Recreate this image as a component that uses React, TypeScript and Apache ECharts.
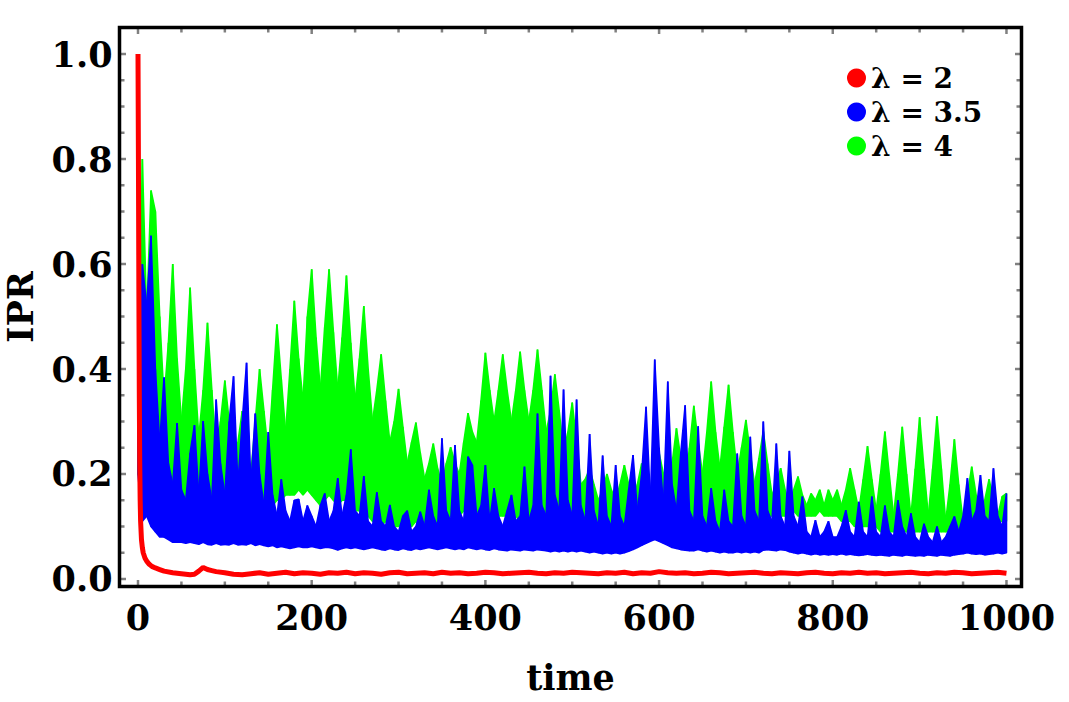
import React, { useEffect, useRef } from "react";
import * as echarts from "echarts";

// ---------- data ----------
const STEP = 5; // time step of the envelope samples
const X_MIN = -21.3;
const X_MAX = 1017.3;
const Y_MIN = -0.0143;
const Y_MAX = 1.0505;

const X_MAJOR = [0, 200, 400, 600, 800, 1000];
const X_MINOR = [50, 100, 150, 250, 300, 350, 450, 500, 550, 650, 700, 750, 850, 900, 950];
const Y_MAJOR = [0, 0.2, 0.4, 0.6, 0.8, 1.0];
const Y_MINOR = [0.05, 0.1, 0.15, 0.25, 0.3, 0.35, 0.45, 0.5, 0.55, 0.65, 0.7, 0.75, 0.85, 0.9, 0.95];

const SERIES_NAMES = ["λ = 2", "λ = 3.5", "λ = 4"];

// λ = 4 (green): upper / lower envelope of the fast oscillation, every 5 time units
const GREEN_UPPER = [
  0.30, 0.80, 0.50, 0.74, 0.70, 0.50, 0.34, 0.45, 0.60, 0.42, 0.30, 0.40, 0.555, 0.40, 0.27, 0.36, 0.488, 0.36, 0.24, 0.30,
  0.378, 0.30, 0.22, 0.26, 0.32, 0.26, 0.20, 0.30, 0.40, 0.32, 0.24, 0.36, 0.485, 0.38, 0.28, 0.40, 0.53, 0.42, 0.34, 0.50,
  0.59, 0.46, 0.36, 0.48, 0.59, 0.47, 0.36, 0.46, 0.578, 0.45, 0.34, 0.42, 0.52, 0.40, 0.30, 0.36, 0.428, 0.34, 0.26, 0.30,
  0.362, 0.29, 0.22, 0.26, 0.298, 0.24, 0.19, 0.22, 0.258, 0.21, 0.18, 0.22, 0.251, 0.22, 0.20, 0.26, 0.316, 0.28, 0.26, 0.34,
  0.431, 0.36, 0.30, 0.36, 0.428, 0.36, 0.30, 0.36, 0.433, 0.36, 0.30, 0.36, 0.437, 0.36, 0.28, 0.32, 0.39, 0.32, 0.24, 0.28,
  0.336, 0.26, 0.18, 0.19, 0.21, 0.18, 0.15, 0.17, 0.20, 0.17, 0.15, 0.18, 0.217, 0.18, 0.15, 0.18, 0.22, 0.18, 0.16, 0.20,
  0.24, 0.20, 0.17, 0.22, 0.287, 0.23, 0.18, 0.25, 0.33, 0.26, 0.20, 0.28, 0.376, 0.28, 0.21, 0.29, 0.37, 0.28, 0.20, 0.25,
  0.303, 0.24, 0.18, 0.23, 0.281, 0.22, 0.16, 0.18, 0.211, 0.17, 0.14, 0.17, 0.195, 0.16, 0.14, 0.163, 0.15, 0.17, 0.14, 0.17,
  0.15, 0.17, 0.14, 0.17, 0.211, 0.17, 0.13, 0.19, 0.253, 0.19, 0.13, 0.20, 0.281, 0.20, 0.12, 0.20, 0.29, 0.20, 0.12, 0.21,
  0.308, 0.21, 0.12, 0.21, 0.31, 0.21, 0.11, 0.18, 0.266, 0.18, 0.11, 0.16, 0.214, 0.16, 0.11, 0.15, 0.19, 0.15, 0.12, 0.157,
  0.163,
];
const GREEN_LOWER = [
  0.20, 0.18, 0.14, 0.12, 0.11, 0.10, 0.10, 0.09, 0.10, 0.09, 0.09, 0.10, 0.09, 0.09, 0.10, 0.09, 0.09, 0.10, 0.09, 0.09,
  0.09, 0.09, 0.10, 0.09, 0.09, 0.10, 0.10, 0.11, 0.11, 0.12, 0.13, 0.14, 0.15, 0.15, 0.16, 0.16, 0.16, 0.17, 0.16, 0.17,
  0.16, 0.15, 0.14, 0.15, 0.16, 0.15, 0.14, 0.15, 0.15, 0.14, 0.13, 0.13, 0.12, 0.12, 0.11, 0.11, 0.10, 0.11, 0.10, 0.10,
  0.10, 0.11, 0.10, 0.10, 0.11, 0.10, 0.10, 0.10, 0.11, 0.10, 0.11, 0.11, 0.12, 0.12, 0.12, 0.13, 0.13, 0.12, 0.13, 0.12,
  0.13, 0.12, 0.13, 0.12, 0.12, 0.12, 0.11, 0.12, 0.11, 0.11, 0.10, 0.10, 0.10, 0.09, 0.09, 0.09, 0.09, 0.08, 0.09, 0.08,
  0.08, 0.09, 0.08, 0.08, 0.09, 0.08, 0.08, 0.08, 0.09, 0.08, 0.08, 0.09, 0.08, 0.08, 0.08, 0.09, 0.09, 0.09, 0.10, 0.10,
  0.10, 0.10, 0.10, 0.09, 0.09, 0.09, 0.08, 0.09, 0.09, 0.08, 0.08, 0.09, 0.08, 0.09, 0.09, 0.09, 0.10, 0.09, 0.10, 0.10,
  0.10, 0.11, 0.11, 0.11, 0.11, 0.12, 0.12, 0.12, 0.12, 0.12, 0.12, 0.13, 0.12, 0.12, 0.12, 0.12, 0.12, 0.13, 0.12, 0.12,
  0.12, 0.12, 0.11, 0.11, 0.11, 0.10, 0.10, 0.10, 0.10, 0.10, 0.10, 0.09, 0.09, 0.09, 0.09, 0.09, 0.09, 0.09, 0.09, 0.09,
  0.09, 0.09, 0.09, 0.09, 0.09, 0.09, 0.09, 0.09, 0.09, 0.09, 0.09, 0.09, 0.10, 0.10, 0.10, 0.10, 0.10, 0.10, 0.11, 0.11,
  0.11,
];

// λ = 3.5 (blue): upper / lower envelope of the fast oscillation, every 5 time units
const BLUE_UPPER = [
  0.30, 0.60, 0.52, 0.654, 0.40, 0.26, 0.384, 0.22, 0.18, 0.297, 0.17, 0.15, 0.24, 0.293, 0.16, 0.301, 0.20, 0.15, 0.342, 0.22,
  0.16, 0.30, 0.386, 0.18, 0.30, 0.412, 0.18, 0.315, 0.20, 0.14, 0.28, 0.16, 0.12, 0.19, 0.13, 0.11, 0.15, 0.152, 0.11, 0.14,
  0.12, 0.10, 0.14, 0.163, 0.11, 0.13, 0.192, 0.12, 0.16, 0.247, 0.13, 0.12, 0.196, 0.11, 0.10, 0.165, 0.11, 0.10, 0.141, 0.10,
  0.09, 0.12, 0.13, 0.09, 0.10, 0.128, 0.10, 0.17, 0.12, 0.10, 0.268, 0.13, 0.11, 0.255, 0.13, 0.11, 0.233, 0.217, 0.12, 0.14,
  0.217, 0.11, 0.173, 0.12, 0.10, 0.13, 0.16, 0.11, 0.12, 0.214, 0.11, 0.14, 0.315, 0.14, 0.12, 0.387, 0.16, 0.13, 0.361, 0.15,
  0.12, 0.342, 0.14, 0.11, 0.276, 0.13, 0.10, 0.235, 0.12, 0.10, 0.217, 0.12, 0.10, 0.17, 0.236, 0.13, 0.20, 0.328, 0.15, 0.418,
  0.25, 0.14, 0.376, 0.18, 0.13, 0.24, 0.331, 0.13, 0.11, 0.291, 0.12, 0.10, 0.173, 0.11, 0.09, 0.17, 0.11, 0.10, 0.239, 0.12,
  0.10, 0.271, 0.13, 0.11, 0.30, 0.13, 0.11, 0.258, 0.12, 0.10, 0.244, 0.12, 0.10, 0.157, 0.09, 0.08, 0.112, 0.08, 0.09, 0.11,
  0.08, 0.08, 0.10, 0.131, 0.09, 0.08, 0.147, 0.09, 0.08, 0.157, 0.09, 0.08, 0.14, 0.09, 0.08, 0.15, 0.10, 0.08, 0.125, 0.08,
  0.07, 0.105, 0.08, 0.07, 0.10, 0.07, 0.08, 0.10, 0.119, 0.09, 0.12, 0.192, 0.11, 0.13, 0.198, 0.12, 0.11, 0.211, 0.12, 0.10,
  0.163,
];
const BLUE_LOWER = [
  0.20, 0.11, 0.12, 0.10, 0.09, 0.08, 0.08, 0.075, 0.07, 0.07, 0.07, 0.068, 0.07, 0.068, 0.066, 0.07, 0.066, 0.065, 0.068, 0.065,
  0.066, 0.065, 0.068, 0.065, 0.066, 0.065, 0.068, 0.064, 0.066, 0.064, 0.062, 0.064, 0.06, 0.062, 0.06, 0.058, 0.06, 0.062, 0.06, 0.06,
  0.062, 0.06, 0.058, 0.06, 0.06, 0.058, 0.055, 0.058, 0.06, 0.058, 0.06, 0.058, 0.056, 0.058, 0.06, 0.058, 0.056, 0.055, 0.058, 0.056,
  0.055, 0.058, 0.056, 0.055, 0.058, 0.056, 0.058, 0.06, 0.058, 0.056, 0.058, 0.06, 0.058, 0.056, 0.058, 0.056, 0.06, 0.058, 0.056, 0.058,
  0.056, 0.055, 0.058, 0.056, 0.055, 0.054, 0.056, 0.055, 0.054, 0.056, 0.055, 0.054, 0.056, 0.055, 0.054, 0.052, 0.054, 0.052, 0.054, 0.052,
  0.054, 0.052, 0.054, 0.052, 0.05, 0.052, 0.05, 0.048, 0.05, 0.048, 0.05, 0.048, 0.05, 0.053, 0.056, 0.06, 0.064, 0.068, 0.072, 0.075,
  0.072, 0.068, 0.064, 0.06, 0.058, 0.056, 0.055, 0.054, 0.054, 0.056, 0.054, 0.052, 0.054, 0.052, 0.05, 0.052, 0.05, 0.05, 0.052, 0.05,
  0.052, 0.05, 0.052, 0.05, 0.055, 0.056, 0.055, 0.054, 0.056, 0.055, 0.052, 0.05, 0.048, 0.05, 0.048, 0.046, 0.048, 0.046, 0.047, 0.046,
  0.047, 0.046, 0.048, 0.046, 0.047, 0.046, 0.045, 0.046, 0.047, 0.046, 0.045, 0.046, 0.045, 0.044, 0.046, 0.045, 0.044, 0.046, 0.045, 0.044,
  0.045, 0.044, 0.046, 0.045, 0.044, 0.046, 0.045, 0.044, 0.046, 0.047, 0.048, 0.05, 0.048, 0.047, 0.048, 0.046, 0.047, 0.048, 0.05, 0.048,
  0.05,
];

// λ = 2 (red): fast decay, then a flat noisy floor
const RED_EARLY_T = [0, 0.5, 1, 1.5, 2, 2.5, 3, 4, 5, 6, 8, 10, 13, 16, 20, 25, 30, 40, 50, 60, 65, 70, 75, 80, 85, 90, 100, 110, 120];
const RED_EARLY_V = [1.0, 0.8, 0.55, 0.35, 0.22, 0.15, 0.11, 0.075, 0.06, 0.05, 0.04, 0.034, 0.028, 0.024, 0.021, 0.018, 0.015, 0.012, 0.01, 0.008, 0.009, 0.015, 0.022, 0.018, 0.016, 0.014, 0.012, 0.009, 0.008];
const RED_LATE_START = 130;
const RED_LATE_STEP = 10;
const RED_LATE_V = [
  0.010, 0.012, 0.009, 0.011, 0.013, 0.010, 0.012, 0.011, 0.009, 0.012,
  0.011, 0.013, 0.010, 0.012, 0.011, 0.009, 0.012, 0.013, 0.010, 0.011,
  0.012, 0.010, 0.013, 0.011, 0.012, 0.010, 0.011, 0.013, 0.012, 0.010,
  0.011, 0.012, 0.013, 0.011, 0.010, 0.012, 0.011, 0.013, 0.012, 0.011,
  0.010, 0.012, 0.011, 0.013, 0.010, 0.012, 0.011, 0.014, 0.012, 0.011,
  0.012, 0.010, 0.011, 0.013, 0.012, 0.010, 0.011, 0.012, 0.013, 0.011,
  0.010, 0.012, 0.011, 0.010, 0.012, 0.013, 0.011, 0.010, 0.012, 0.011,
  0.013, 0.011, 0.012, 0.010, 0.011, 0.012, 0.013, 0.011, 0.010, 0.012,
  0.011, 0.013, 0.012, 0.010, 0.011, 0.012, 0.013, 0.011,
];

// ---------- helpers ----------
// rows of [time, upper, lower] for a band series
function bandRows(upper: number[], lower: number[], step: number): number[][] {
  return upper.map((u, k) => [k * step, u, lower[k]]);
}

function redLine(): [number, number][] {
  const out: [number, number][] = RED_EARLY_T.map((t, i) => [t, RED_EARLY_V[i]] as [number, number]);
  RED_LATE_V.forEach((v, i) => out.push([RED_LATE_START + i * RED_LATE_STEP, v]));
  return out;
}

const FONT = "'DejaVu Serif', serif";
const TICK_COLOR = "#808080";

function bandSeries(name: string, rows: number[][], color: string) {
  return {
    type: "custom",
    name,
    xAxisIndex: 0,
    yAxisIndex: 0,
    clip: true,
    z: 2,
    data: rows,
    encode: { x: 0, y: [1, 2] },
    itemStyle: { color },
    renderItem: (params: any, api: any) => {
      const i = params.dataIndexInside;
      if (i >= params.dataInsideLength - 1) return null;
      const t0 = api.value(0, i);
      const u0 = api.value(1, i);
      const l0 = api.value(2, i);
      const t1 = api.value(0, i + 1);
      const u1 = api.value(1, i + 1);
      const l1 = api.value(2, i + 1);
      const pts = [api.coord([t0, u0]), api.coord([t1, u1]), api.coord([t1, l1]), api.coord([t0, l0])];
      return {
        type: "polygon",
        shape: { points: pts },
        style: { fill: color, stroke: color, lineWidth: 1.6, lineJoin: "bevel" },
      };
    },
  };
}

// frame ticks (bottom+top for x values, left+right for y values), placed through the axes' scales
function tickSeries(id: string, kind: "x" | "y", values: number[], len: number) {
  return {
    type: "custom",
    id,
    name: id,
    xAxisIndex: 0,
    yAxisIndex: 0,
    silent: true,
    clip: false,
    z: 5,
    data: values.map((v) => (kind === "x" ? [v, Y_MIN] : [X_MIN, v])),
    encode: { x: 0, y: 1 },
    renderItem: (params: any, api: any) => {
      const cs = params.coordSys;
      const style = { stroke: TICK_COLOR, lineWidth: 2.5 };
      if (kind === "x") {
        const px = api.coord([api.value(0), Y_MIN])[0];
        return {
          type: "group",
          children: [
            { type: "line", shape: { x1: px, y1: cs.y + cs.height, x2: px, y2: cs.y + cs.height - len }, style },
            { type: "line", shape: { x1: px, y1: cs.y, x2: px, y2: cs.y + len }, style },
          ],
        };
      }
      const py = api.coord([X_MIN, api.value(1)])[1];
      return {
        type: "group",
        children: [
          { type: "line", shape: { x1: cs.x, y1: py, x2: cs.x + len, y2: py }, style },
          { type: "line", shape: { x1: cs.x + cs.width, y1: py, x2: cs.x + cs.width - len, y2: py }, style },
        ],
      };
    },
  };
}

export default function App() {
  const ref = useRef<HTMLDivElement>(null);

  useEffect(() => {
    if (!ref.current) return;
    const chart = echarts.init(ref.current, undefined, { renderer: "svg" });

    const nameStyle = { fontFamily: FONT, fontWeight: "bold", fontSize: 35, color: "#000" };

    chart.setOption({
      animation: false,
      backgroundColor: "#fff",
      grid: {
        left: 119.5,
        right: 47.5,
        top: 27.5,
        bottom: 115.5,
        outerBoundsMode: "none",
        containLabel: false,
        show: true,
        z: 10,
        borderColor: "#000",
        borderWidth: 3.5,
        backgroundColor: "transparent",
      },
      legend: {
        show: true,
        orient: "vertical",
        left: 842,
        top: 59,
        icon: "circle",
        itemWidth: 19,
        itemHeight: 19,
        itemGap: 6,
        selectedMode: false,
        data: SERIES_NAMES.map((n, i) => ({ name: n, itemStyle: { color: ["#ff0000", "#0000ff", "#00ff00"][i] } })),
        textStyle: { fontFamily: FONT, fontWeight: "bold", fontSize: 28, color: "#000" },
      },
      xAxis: {
        type: "value",
        position: "bottom",
        min: X_MIN,
        max: X_MAX,
        axisLine: { show: false, onZero: false },
        axisTick: { show: false },
        splitLine: { show: false },
        axisLabel: {
          customValues: X_MAJOR,
          formatter: (v: number) => String(Math.round(v)),
          fontFamily: FONT,
          fontWeight: "bold",
          fontSize: 35,
          color: "#000",
          margin: 13,
        },
        name: "time",
        nameLocation: "middle",
        nameGap: 73,
        nameTextStyle: nameStyle,
      },
      yAxis: {
        type: "value",
        position: "left",
        min: Y_MIN,
        max: Y_MAX,
        axisLine: { show: false, onZero: false },
        axisTick: { show: false },
        splitLine: { show: false },
        axisLabel: {
          customValues: Y_MAJOR,
          formatter: (v: number) => v.toFixed(1),
          fontFamily: FONT,
          fontWeight: "bold",
          fontSize: 35,
          color: "#000",
          margin: 7,
        },
        name: "IPR",
        nameLocation: "middle",
        nameGap: 84,
        nameTextStyle: { ...nameStyle, lineHeight: 30 },
      },
      series: [
        bandSeries(SERIES_NAMES[2], bandRows(GREEN_UPPER, GREEN_LOWER, STEP), "#00ff00"),
        bandSeries(SERIES_NAMES[1], bandRows(BLUE_UPPER, BLUE_LOWER, STEP), "#0000ff"),
        {
          type: "line",
          name: SERIES_NAMES[0],
          showSymbol: false,
          symbol: "none",
          xAxisIndex: 0,
          yAxisIndex: 0,
          clip: true,
          z: 3,
          data: redLine(),
          itemStyle: { color: "#ff0000" },
          lineStyle: { color: "#ff0000", width: 5 },
        },
        tickSeries("xMajorTicks", "x", X_MAJOR, 6.5),
        tickSeries("xMinorTicks", "x", X_MINOR, 5),
        tickSeries("yMajorTicks", "y", Y_MAJOR, 6.5),
        tickSeries("yMinorTicks", "y", Y_MINOR, 5),
      ],
    });

    return () => chart.dispose();
  }, []);

  return (
    <div
      ref={ref}
      style={{ position: "fixed", left: 0, top: 0, width: "1069px", height: "702px", background: "#fff" }}
    />
  );
}
